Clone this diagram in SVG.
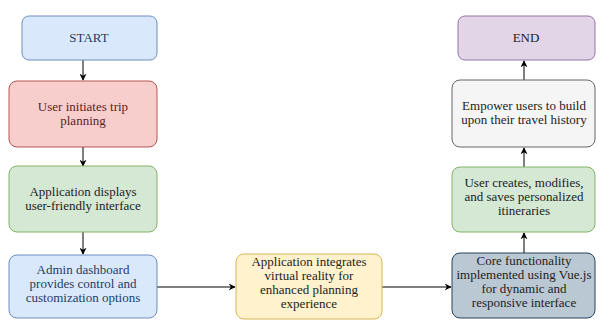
<svg xmlns="http://www.w3.org/2000/svg" width="600" height="321" viewBox="0 0 600 321">
<defs>
<marker id="ah" viewBox="0 0 10 10" refX="9" refY="5" markerWidth="7" markerHeight="7" orient="auto" markerUnits="userSpaceOnUse">
<path d="M0,0 L10,5 L0,10 L3,5 Z" fill="#000"/>
</marker>
</defs>
<style>
.c{stroke:#000;stroke-width:1;fill:none;marker-end:url(#ah)}
.blue{fill:#dae8fc;stroke:#6c8ebf}
.red{fill:#f8cecc;stroke:#b85450}
.green{fill:#d5e8d4;stroke:#82b366}
.yellow{fill:#fff2cc;stroke:#d6b656}
.slate{fill:#bac8d3;stroke:#23445d}
.gray{fill:#f5f5f5;stroke:#666666}
.purple{fill:#e1d5e7;stroke:#9673a6}
rect{stroke-width:1}
</style>
<rect width="600" height="321" fill="#fff"/>
<g id="connectors">
<line class="c" x1="83" y1="60" x2="83" y2="80"/>
<line class="c" x1="83" y1="147" x2="83" y2="166"/>
<line class="c" x1="83" y1="232" x2="83" y2="254"/>
<line class="c" x1="157" y1="287" x2="235" y2="287"/>
<line class="c" x1="382" y1="287" x2="451" y2="287"/>
<line class="c" x1="524" y1="253" x2="524" y2="233"/>
<line class="c" x1="524" y1="167" x2="524" y2="148"/>
<line class="c" x1="524" y1="80" x2="524" y2="61"/>
</g>
<g font-family="Liberation Serif, Times New Roman, serif" font-size="13" text-anchor="middle" fill="#222">
<g id="start">
<rect class="blue" x="22" y="16" width="135" height="44" rx="7"/>
<text x="89" y="42" fill="#1f3b63">START</text>
</g>
<g id="user-initiates">
<rect class="red" x="9" y="81" width="148" height="66" rx="8"/>
<text x="83" y="111" fill="#5a1f1f">User initiates trip</text>
<text x="83" y="125" fill="#5a1f1f">planning</text>
</g>
<g id="app-displays">
<rect class="green" x="9" y="166" width="148" height="66" rx="8"/>
<text x="83" y="196">Application displays</text>
<text x="83" y="210">user-friendly interface</text>
</g>
<g id="admin-dashboard">
<rect class="blue" x="9" y="255" width="148" height="63" rx="8"/>
<text x="83" y="274" fill="#1f3b63">Admin dashboard</text>
<text x="83" y="288" fill="#1f3b63">provides control and</text>
<text x="83" y="302" fill="#1f3b63">customization options</text>
</g>
<g id="vr">
<rect class="yellow" x="236" y="254" width="146" height="65" rx="8"/>
<text x="309" y="266">Application integrates</text>
<text x="309" y="280">virtual reality for</text>
<text x="309" y="294">enhanced planning</text>
<text x="309" y="308">experience</text>
</g>
<g id="core">
<rect class="slate" x="452" y="253" width="143" height="65" rx="8"/>
<text x="524" y="265">Core functionality</text>
<text x="524" y="279">implemented using Vue.js</text>
<text x="524" y="293">for dynamic and</text>
<text x="524" y="307">responsive interface</text>
</g>
<g id="user-creates">
<rect class="green" x="452" y="167" width="143" height="65" rx="8"/>
<text x="524" y="187">User creates, modifies,</text>
<text x="524" y="201">and saves personalized</text>
<text x="524" y="215">itineraries</text>
</g>
<g id="empower">
<rect class="gray" x="452" y="80" width="143" height="67" rx="8"/>
<text x="524" y="110">Empower users to build</text>
<text x="524" y="124">upon their travel history</text>
</g>
<g id="end">
<rect class="purple" x="458" y="16" width="137" height="44" rx="7"/>
<text x="526" y="42">END</text>
</g>
</g>
</svg>
